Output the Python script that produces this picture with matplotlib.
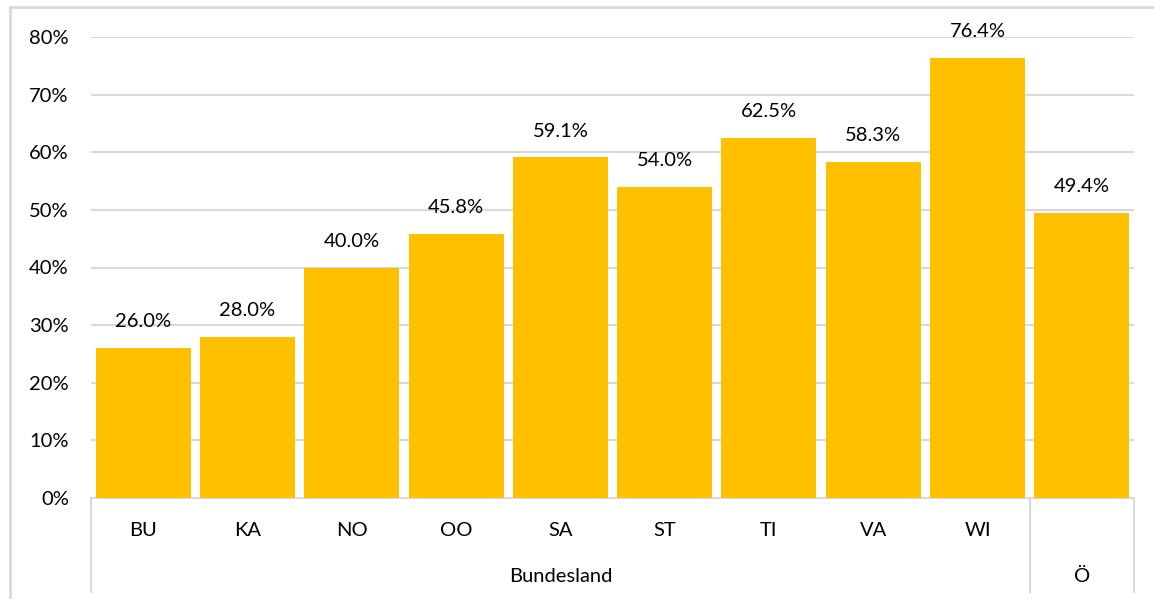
import matplotlib.pyplot as plt
from matplotlib.lines import Line2D
import matplotlib.transforms as mtransforms

plt.rcParams['font.family'] = ['Lato', 'DejaVu Sans']

codes = ["BU", "KA", "NO", "OO", "SA", "ST", "TI", "VA", "WI", "Ö"]
values = [26.0, 28.0, 40.0, 45.8, 59.1, 54.0, 62.5, 58.3, 76.4, 49.4]
groups = [("Bundesland", 0, 9), ("Ö", 9, 10)]
yticks = [0, 10, 20, 30, 40, 50, 60, 70, 80]

W, H = 1154, 599
FS = 14.5
fig = plt.figure(figsize=(W / 100, H / 100), dpi=100)

# plot area in pixel coordinates
left, right, top, bottom = 91, 1134, 37, 498
ax = fig.add_axes([left / W, 1 - bottom / H, (right - left) / W, (bottom - top) / H])

x = list(range(len(codes)))
ax.bar(x, values, width=0.91, color="#FFC000", zorder=3)
ax.set_xlim(-0.5, len(codes) - 0.5)
ax.set_ylim(0, 80)
ax.set_yticks(yticks)
ax.set_yticklabels([f"{t}%" for t in yticks], fontsize=FS)
ax.tick_params(axis="y", length=0, pad=16)
ax.set_xticks([])
ax.yaxis.grid(True, color="#d9d9d9", linewidth=1.5, zorder=0)
for s in ["top", "right", "left"]:
    ax.spines[s].set_visible(False)
ax.spines["bottom"].set_color("#d9d9d9")
ax.spines["bottom"].set_linewidth(1.5)

for xi, v in zip(x, values):
    ax.annotate(f"{v:.1f}%", (xi, v), xytext=(0, 19), textcoords="offset points",
                ha="center", va="center", fontsize=FS)

# multi-level category axis below the bars
trans = mtransforms.blended_transform_factory(ax.transData, ax.transAxes)
depth = -(592 - bottom) / (bottom - top)
row1 = -(530 - bottom) / (bottom - top)
row2 = -(576 - bottom) / (bottom - top)
for xi, c in zip(x, codes):
    if c != "Ö":
        ax.text(xi, row1, c, transform=trans, ha="center", va="center", fontsize=FS)
for name, a, b in groups:
    ax.text((a + b - 1) / 2, row2, name, transform=trans, ha="center", va="center", fontsize=FS)
    for edge in (a - 0.5, b - 0.5):
        ax.add_line(Line2D([edge, edge], [0, depth], transform=trans, color="#d9d9d9",
                           linewidth=1.5, clip_on=False))

# chart frame
fig.add_artist(Line2D([10 / W, 10 / W], [0, 1 - 7 / H], color="#d9d9d9", linewidth=2))
fig.add_artist(Line2D([10 / W, 1], [1 - 7 / H, 1 - 7 / H], color="#d9d9d9", linewidth=2))

fig.savefig("out.png", dpi=100)
